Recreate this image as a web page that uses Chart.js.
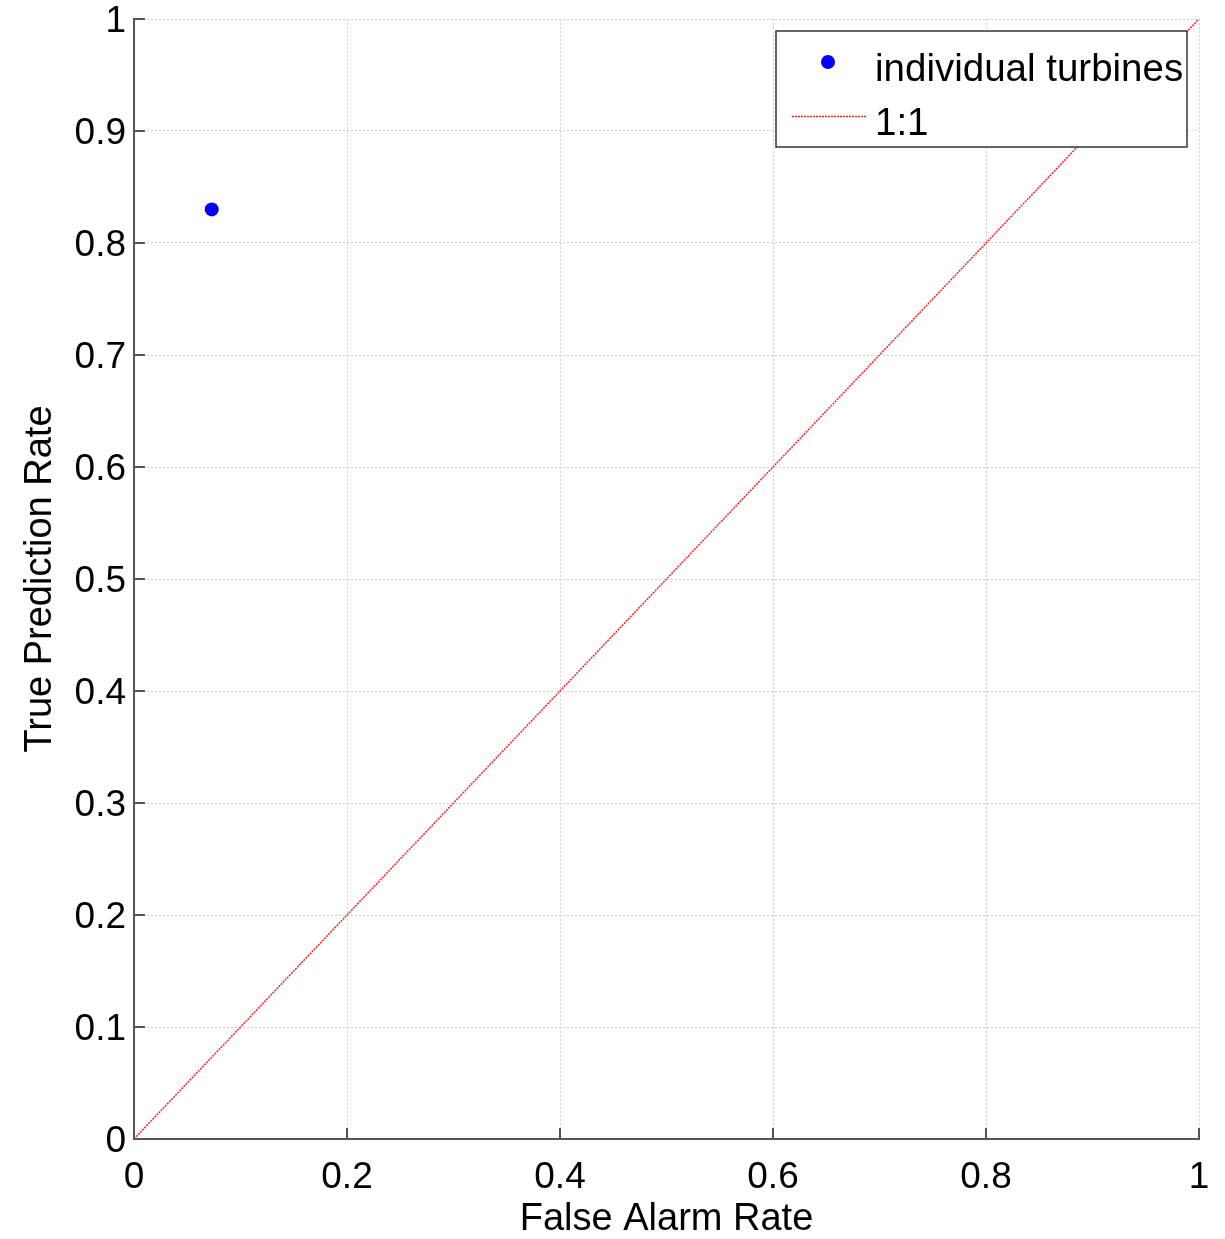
<!DOCTYPE html>
<html>
<head>
<meta charset="utf-8">
<script src="https://cdn.jsdelivr.net/npm/chart.js@4.4.1/dist/chart.umd.min.js"></script>
<style>
html,body{margin:0;padding:0;background:#fff;}
#wrap{width:1225px;height:1239px;position:relative;}
</style>
</head>
<body>
<div id="wrap"><canvas id="c" width="1225" height="1239"></canvas></div>
<script>
const turbineX = [0.073];
const turbineY = [0.830];
const lineX = [0, 1];
const lineY = [0, 1];
const xTicks = [0, 0.2, 0.4, 0.6, 0.8, 1];
const yTicks = [0, 0.1, 0.2, 0.3, 0.4, 0.5, 0.6, 0.7, 0.8, 0.9, 1];
const seriesNames = ['individual turbines', '1:1'];
const xTitle = 'False Alarm Rate';
const yTitle = 'True Prediction Rate';

const FONT = "'Liberation Sans', Arial, Helvetica, sans-serif";
const fmt = v => String(Math.round(v * 10) / 10);

const inwardTicks = {
  id: 'inwardTicks',
  afterDatasetsDraw(chart) {
    const ctx = chart.ctx;
    const xs = chart.scales.x, ys = chart.scales.y;
    const a = chart.chartArea;
    ctx.save();
    ctx.strokeStyle = '#555';
    ctx.lineWidth = 2;
    ctx.beginPath();
    xTicks.forEach(v => {
      const px = xs.getPixelForValue(v);
      ctx.moveTo(px, a.bottom);
      ctx.lineTo(px, a.bottom - 11);
    });
    yTicks.forEach(v => {
      const py = ys.getPixelForValue(v);
      ctx.moveTo(a.left, py);
      ctx.lineTo(a.left + 11, py);
    });
    ctx.stroke();
    ctx.restore();
  }
};

const boxLegend = {
  id: 'boxLegend',
  afterDraw(chart) {
    const ctx = chart.ctx;
    const ds = chart.data.datasets;
    ctx.save();
    const bx = 776, by = 31, bw = 411, bh = 116;
    ctx.fillStyle = '#fff';
    ctx.fillRect(bx, by, bw, bh);
    ctx.strokeStyle = '#333';
    ctx.lineWidth = 1.5;
    ctx.strokeRect(bx, by, bw, bh);
    ctx.fillStyle = ds[0].backgroundColor;
    ctx.beginPath();
    ctx.arc(828, 62, 7, 0, Math.PI * 2);
    ctx.fill();
    ctx.strokeStyle = ds[1].borderColor;
    ctx.lineWidth = 1.5;
    ctx.setLineDash([2, 1]);
    ctx.beginPath();
    ctx.moveTo(792, 116.5);
    ctx.lineTo(867, 116.5);
    ctx.stroke();
    ctx.setLineDash([]);
    ctx.fillStyle = '#000';
    ctx.font = '38.5px ' + FONT;
    ctx.textAlign = 'left';
    ctx.textBaseline = 'alphabetic';
    ctx.fillText(ds[0].label, 875, 81);
    ctx.fillText(ds[1].label, 875, 135);
    ctx.restore();
  }
};

new Chart(document.getElementById('c'), {
  type: 'scatter',
  data: {
    datasets: [
      {
        label: seriesNames[0],
        data: turbineX.map((x, i) => ({x: x, y: turbineY[i]})),
        backgroundColor: '#0000ff',
        borderColor: '#0000ff',
        pointRadius: 7,
        pointBorderWidth: 0,
        showLine: false
      },
      {
        label: seriesNames[1],
        type: 'line',
        data: lineX.map((x, i) => ({x: x, y: lineY[i]})),
        borderColor: '#ff2020',
        borderWidth: 1.5,
        borderDash: [2, 1],
        pointRadius: 0,
        fill: false
      }
    ]
  },
  options: {
    responsive: false,
    animation: false,
    events: [],
    layout: {padding: {top: 19, right: 26, left: 0, bottom: 0}},
    plugins: {legend: {display: false}, tooltip: {enabled: false}},
    scales: {
      x: {
        type: 'linear', min: 0, max: 1,
        afterFit(s) { s.height = 100; s.paddingLeft = 0; s.paddingRight = 0; },
        afterBuildTicks(s) { s.ticks = xTicks.map(v => ({value: v})); },
        grid: {color: '#d0d0d0', lineWidth: 1, drawTicks: false},
        border: {display: true, color: '#555', width: 2, dash: [2, 2]},
        ticks: {color: '#000', font: {family: FONT, size: 37}, padding: 17, maxRotation: 0, callback: v => fmt(v)},
        title: {display: true, text: xTitle, color: '#000', font: {family: FONT, size: 38, lineHeight: 1.0}, padding: {top: 0, bottom: 0}}
      },
      y: {
        type: 'linear', min: 0, max: 1,
        afterFit(s) { s.width = 134; s.paddingTop = 0; s.paddingBottom = 0; },
        afterBuildTicks(s) { s.ticks = yTicks.map(v => ({value: v})); },
        grid: {color: '#d0d0d0', lineWidth: 1, drawTicks: false},
        border: {display: true, color: '#555', width: 2, dash: [2, 2]},
        ticks: {color: '#000', font: {family: FONT, size: 37}, padding: 8, labelOffset: 3, callback: v => fmt(v)},
        title: {display: true, text: yTitle, color: '#000', font: {family: FONT, size: 38}, padding: {top: 18, bottom: 0}}
      }
    }
  },
  plugins: [inwardTicks, boxLegend]
});
</script>
</body>
</html>
